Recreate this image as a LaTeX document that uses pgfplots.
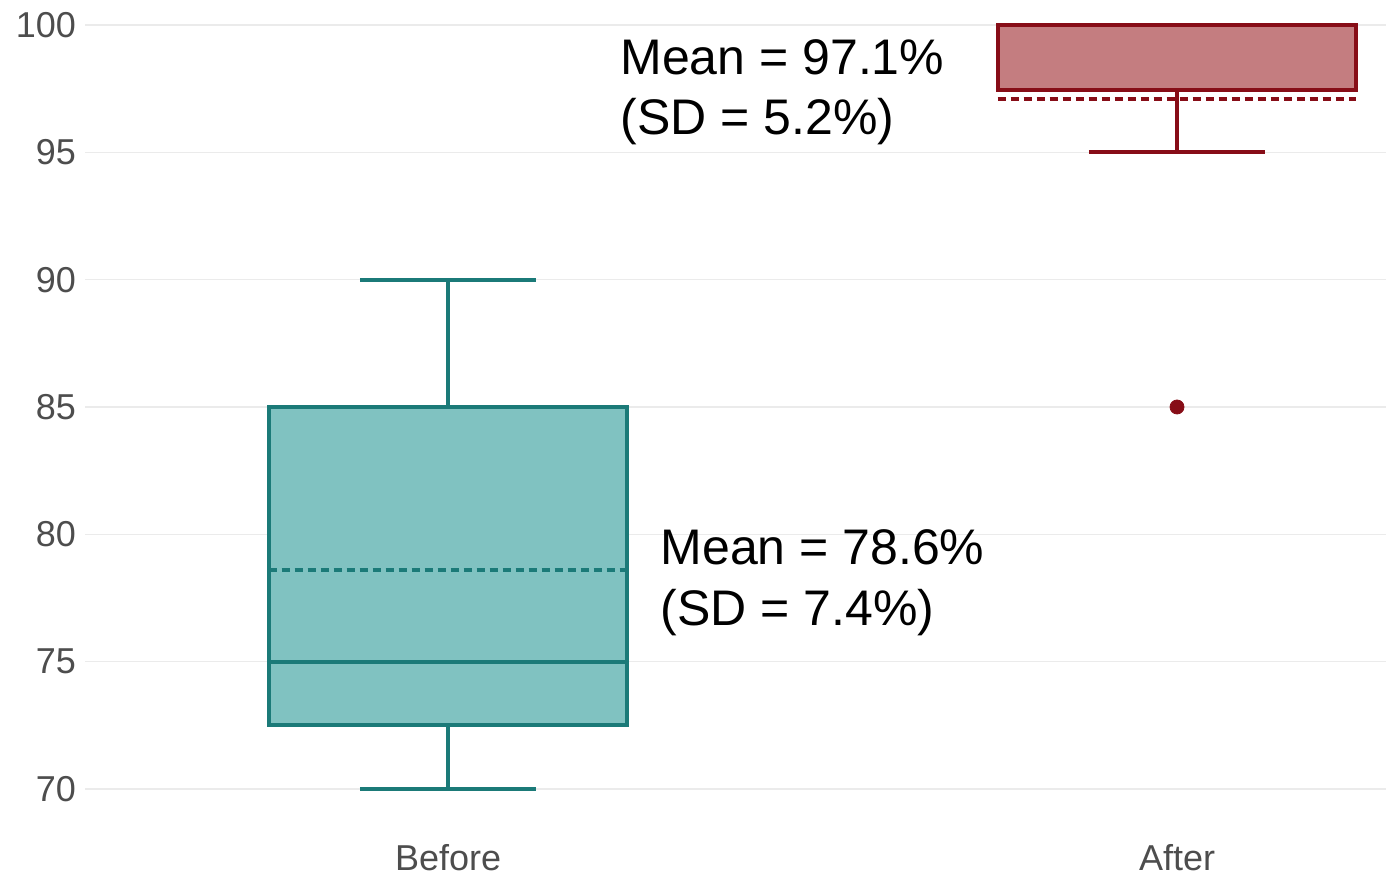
\documentclass[border=0pt]{standalone}
\usepackage{pgfplots}
\pgfplotsset{compat=1.18}
\usepackage{fontspec}
\setmainfont{Liberation Sans}
\definecolor{tealfill}{HTML}{80C2C1}
\definecolor{tealedge}{HTML}{1B7A78}
\definecolor{redfill}{HTML}{C47D80}
\definecolor{rededge}{HTML}{870D17}
\definecolor{gridc}{HTML}{EBEBEB}
\definecolor{tickc}{HTML}{4D4D4D}
\begin{document}
\begin{tikzpicture}
\begin{axis}[
  name=ax,
  scale only axis,
  width=650.5pt, height=407.5pt,
  xmin=0.502, xmax=2.2867,
  ymin=68.98, ymax=100.98,
  xtick={1,2}, xticklabels={Before,After},
  ytick={70,75,80,85,90,95,100},
  ymajorgrids=true,
  grid style={gridc, line width=0.6pt},
  axis line style={draw=none},
  tick style={draw=none},
  major tick length=0pt,
  /pgf/number format/assume math mode=true,
  tick label style={font=\fontsize{18}{20}\selectfont, text=tickc},
  xticklabel style={yshift=-11pt},
  yticklabel style={xshift=-1pt},
]
% Before: whiskers and caps
\addplot[tealedge, line width=2pt] coordinates {(1,72.5) (1,70)};
\addplot[tealedge, line width=2pt] coordinates {(1,85) (1,90)};
\addplot[tealedge, line width=2pt] coordinates {(0.879,70) (1.121,70)};
\addplot[tealedge, line width=2pt] coordinates {(0.879,90) (1.121,90)};
% Before: box
\addplot[draw=tealedge, fill=tealfill, line width=2pt, line join=miter] coordinates
  {(0.754,72.5) (1.246,72.5) (1.246,85) (0.754,85) (0.754,72.5) (1.246,72.5)};
\addplot[tealedge, line width=2pt] coordinates {(0.754,75) (1.246,75)};
% After: whisker and cap
\addplot[rededge, line width=2pt] coordinates {(2,97.45) (2,95)};
\addplot[rededge, line width=2pt] coordinates {(1.879,95) (2.121,95)};
% After: box
\addplot[draw=rededge, fill=redfill, line width=2pt, line join=miter] coordinates
  {(1.754,97.45) (2.246,97.45) (2.246,100) (1.754,100) (1.754,97.45) (2.246,97.45)};
\addplot[rededge, line width=2.4pt] coordinates {(1.754,100) (2.246,100)};
% means
\addplot[tealedge, line width=1.8pt, dash pattern=on 4pt off 2.5pt]
  coordinates {(0.754,78.6) (1.246,78.6)};
\addplot[rededge, line width=1.8pt, dash pattern=on 4pt off 2.5pt]
  coordinates {(1.754,97.1) (2.246,97.1)};
% outlier
\addplot[only marks, mark=*, mark size=3.5pt, color=rededge] coordinates {(2,85)};
% annotations
\node[anchor=base west, inner sep=0pt, font=\fontsize{25}{30}\selectfont] at (axis cs:1.236,98.04) {Mean = 97.1\%};
\node[anchor=base west, inner sep=0pt, font=\fontsize{25}{30}\selectfont] at (axis cs:1.236,95.68) {(SD = 5.2\%)};
\node[anchor=base west, inner sep=0pt, font=\fontsize{25}{30}\selectfont] at (axis cs:1.291,78.80) {Mean = 78.6\%};
\node[anchor=base west, inner sep=0pt, font=\fontsize{25}{30}\selectfont] at (axis cs:1.291,76.44) {(SD = 7.4\%)};
\end{axis}
\pgfresetboundingbox
\path ([xshift=-42.5pt,yshift=-30pt]ax.south west) rectangle (ax.north east);
\end{tikzpicture}
\end{document}
